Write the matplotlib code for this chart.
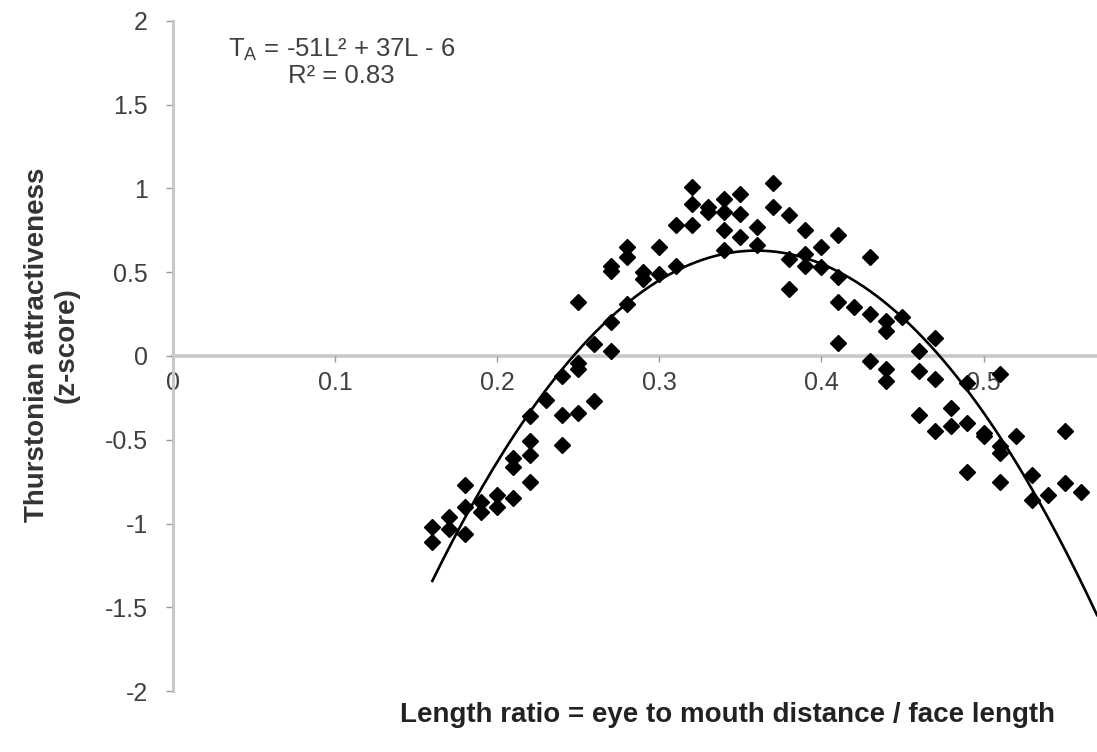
"""
plot.py

Thurstonian attractiveness vs. eye-to-mouth length ratio, with a
quadratic fit drawn through the scatter.
"""

import numpy as np
import matplotlib
matplotlib.use("Agg")
import matplotlib.pyplot as plt

# ----------------------------------------------------------------------
# DATA
# ----------------------------------------------------------------------

length_ratio = [
    0.16, 0.16,
    0.17, 0.17,
    0.18, 0.18, 0.18,
    0.19, 0.19,
    0.20, 0.20,
    0.21, 0.21, 0.21,
    0.22, 0.22, 0.22, 0.22,
    0.23,
    0.24, 0.24, 0.24,
    0.25, 0.25, 0.25, 0.25,
    0.26, 0.26,
    0.27, 0.27, 0.27, 0.27,
    0.28, 0.28, 0.28,
    0.29, 0.29,
    0.30, 0.30,
    0.31, 0.31,
    0.32, 0.32, 0.32,
    0.33, 0.33,
    0.34, 0.34, 0.34, 0.34,
    0.35, 0.35, 0.35,
    0.36, 0.36,
    0.37, 0.37,
    0.38, 0.38, 0.38,
    0.39, 0.39, 0.39,
    0.40, 0.40,
    0.41, 0.41, 0.41, 0.41,
    0.42,
    0.43, 0.43, 0.43,
    0.44, 0.44, 0.44, 0.44,
    0.45,
    0.46, 0.46, 0.46,
    0.47, 0.47, 0.47,
    0.48, 0.48,
    0.49, 0.49, 0.49,
    0.50, 0.50,
    0.51, 0.51, 0.51, 0.51,
    0.52,
    0.53, 0.53,
    0.54,
    0.55, 0.55,
    0.56,
]

attractiveness = [
    -1.02, -1.11,
    -0.96, -1.03,
    -0.77, -0.90, -1.06,
    -0.87, -0.93,
    -0.83, -0.90,
    -0.61, -0.66, -0.85,
    -0.36, -0.51, -0.59, -0.75,
    -0.26,
    -0.12, -0.35, -0.53,
    0.32, -0.04, -0.08, -0.34,
    0.07, -0.27,
    0.54, 0.51, 0.20, 0.03,
    0.65, 0.59, 0.31,
    0.50, 0.46,
    0.65, 0.49,
    0.78, 0.54,
    1.01, 0.91, 0.78,
    0.89, 0.86,
    0.94, 0.86, 0.75, 0.63,
    0.97, 0.85, 0.71,
    0.77, 0.66,
    1.03, 0.89,
    0.84, 0.58, 0.40,
    0.75, 0.61, 0.54,
    0.65, 0.53,
    0.72, 0.47, 0.32, 0.08,
    0.29,
    0.59, 0.25, -0.03,
    0.21, 0.15, -0.08, -0.15,
    0.23,
    0.03, -0.09, -0.35,
    0.11, -0.14, -0.45,
    -0.31, -0.42,
    -0.16, -0.40, -0.69,
    -0.46, -0.48,
    -0.11, -0.54, -0.58, -0.75,
    -0.48,
    -0.71, -0.86,
    -0.83,
    -0.45, -0.76,
    -0.81,
]

x_ticks = [0, 0.1, 0.2, 0.3, 0.4, 0.5]
x_tick_labels = ["0", "0.1", "0.2", "0.3", "0.4", "0.5"]
y_ticks = [-2, -1.5, -1, -0.5, 0, 0.5, 1, 1.5, 2]
y_tick_labels = ["-2", "-1.5", "-1", "-0.5", "0", "0.5", "1", "1.5", "2"]

fit_text = "T$_\\mathregular{A}$ = -51L\u00b2 + 37L - 6\nR\u00b2 = 0.83"
x_label = "Length ratio = eye to mouth distance / face length"
y_label = "Thurstonian attractiveness\n(z-score)"

# ----------------------------------------------------------------------
# PLOTTING
# ----------------------------------------------------------------------

AXIS_GREY = "#c8c8c8"
TEXT_GREY = "#404040"


def main():
    plt.rcParams["font.family"] = ["Liberation Sans", "DejaVu Sans"]
    plt.rcParams["mathtext.default"] = "regular"

    fig = plt.figure(figsize=(10.97, 7.52), dpi=100)
    ax = fig.add_axes([0.1577, 0.0811, 0.8423, 0.891])

    # quadratic fit through the points
    coeffs = np.polyfit(length_ratio, attractiveness, 2)
    xs = np.linspace(min(length_ratio), 0.57, 200)
    ax.plot(xs, np.polyval(coeffs, xs), color="black", linewidth=1.9, zorder=2)

    ax.plot(length_ratio, attractiveness, linestyle="none", marker="D",
            markersize=8, color="black", zorder=3)

    ax.set_xlim(0, 0.57)
    ax.set_ylim(-2, 2)

    for side in ("top", "right"):
        ax.spines[side].set_visible(False)
    ax.spines["bottom"].set_position(("data", 0))
    ax.spines["bottom"].set_color(AXIS_GREY)
    ax.spines["bottom"].set_linewidth(2.6)
    ax.spines["left"].set_color(AXIS_GREY)
    ax.spines["left"].set_linewidth(2.2)
    ax.spines["bottom"].set_zorder(1)

    ax.set_xticks(x_ticks)
    ax.set_xticklabels(x_tick_labels)
    ax.set_yticks(y_ticks)
    ax.set_yticklabels(y_tick_labels)
    ax.tick_params(axis="x", direction="out", length=4, width=1,
                   color="#999999", pad=7, labelsize=18, labelcolor=TEXT_GREY)
    ax.tick_params(axis="y", direction="out", length=5, width=1,
                   color="#999999", pad=13, labelsize=18, labelcolor=TEXT_GREY)

    ax.text(0.104, 1.75, fit_text, ha="center", va="center",
            multialignment="center", fontsize=18.5, color=TEXT_GREY,
            linespacing=1.05)

    fig.text(0.663, 0.049, x_label, ha="center", va="center",
             fontsize=20, fontweight="bold", color="#222222")
    fig.text(0.047, 0.541, y_label, ha="center", va="center", rotation=90,
             multialignment="center", fontsize=20, fontweight="bold",
             color="#333333", linespacing=1.2)

    fig.savefig("out.png", dpi=100)
    plt.close(fig)


if __name__ == "__main__":
    main()
